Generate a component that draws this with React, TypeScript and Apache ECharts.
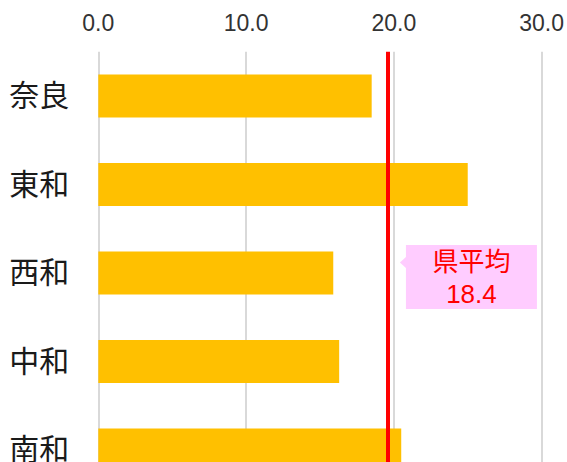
import React, { useEffect, useRef } from "react";
import * as echarts from "echarts";

const categories = ["奈良", "東和", "西和", "中和", "南和"];
const values = [18.5, 25.0, 15.9, 16.3, 20.5];
const xTicks = [0, 10, 20, 30];
const avgLine = 19.6;
const avgTitle = "県平均";
const avgLabel = "18.4";
const calloutCategory = "西和";

const FONT = "'Liberation Sans', Arial, 'Noto Sans CJK JP', sans-serif";

export default function App() {
  const ref = useRef<HTMLDivElement>(null);
  useEffect(() => {
    if (!ref.current) return;
    const chart = echarts.init(ref.current, undefined, { renderer: "svg" });
    chart.setOption({
      animation: false,
      backgroundColor: "#ffffff",
      grid: { left: 98.3, right: 24.3, top: 51.7, height: 442.5, containLabel: false },
      xAxis: {
        type: "value",
        position: "top",
        min: xTicks[0],
        max: xTicks[xTicks.length - 1],
        interval: xTicks[1] - xTicks[0],
        axisLine: { show: false },
        axisTick: { show: false },
        axisLabel: {
          formatter: (v: number) => v.toFixed(1),
          color: "#333333",
          fontSize: 23,
          fontFamily: FONT,
          margin: 17,
        },
        splitLine: { show: true, lineStyle: { color: "#d9d9d9", width: 2 } },
      },
      yAxis: {
        type: "category",
        data: categories,
        inverse: true,
        axisLine: { show: false },
        axisTick: { show: false },
        splitLine: { show: false },
        axisLabel: {
          color: "#1a1a1a",
          fontSize: 30,
          fontFamily: FONT,
          margin: 29,
        },
      },
      series: [
        {
          type: "bar",
          data: values,
          barWidth: 43,
          itemStyle: { color: "#FFC000" },
          markLine: {
            silent: true,
            symbol: "none",
            label: { show: false },
            lineStyle: { color: "#FF0000", width: 4, type: "solid" },
            data: [{ xAxis: avgLine }],
          },
        },
      ],
    });

    const lx = chart.convertToPixel({ xAxisIndex: 0 }, avgLine) as number;
    const cy = chart.convertToPixel({ yAxisIndex: 0 }, calloutCategory) as number;
    const left = lx + 18;
    const right = left + 131;
    const top = cy - 28;
    const bottom = cy + 36;
    chart.setOption({
      graphic: [
        {
          type: "polygon",
          silent: true,
          shape: {
            points: [
              [left, top],
              [right, top],
              [right, bottom],
              [left, bottom],
              [left, cy - 5],
              [lx + 12, cy - 10.5],
              [left, cy - 16],
            ],
          },
          style: { fill: "#FFCCFF", stroke: null },
        },
        {
          type: "text",
          silent: true,
          x: (left + right) / 2,
          y: cy + 5.5,
          style: {
            text: avgTitle + "\n" + avgLabel,
            fill: "#FF0000",
            font: `26px ${FONT}`,
            align: "center",
            verticalAlign: "middle",
            lineHeight: 32,
          },
        },
      ],
    });
    return () => chart.dispose();
  }, []);
  return (
    <div style={{ position: "fixed", left: 0, top: 0, width: 567, height: 462, overflow: "hidden", background: "#fff" }}>
      <div ref={ref} style={{ width: 567, height: 500 }} />
    </div>
  );
}
